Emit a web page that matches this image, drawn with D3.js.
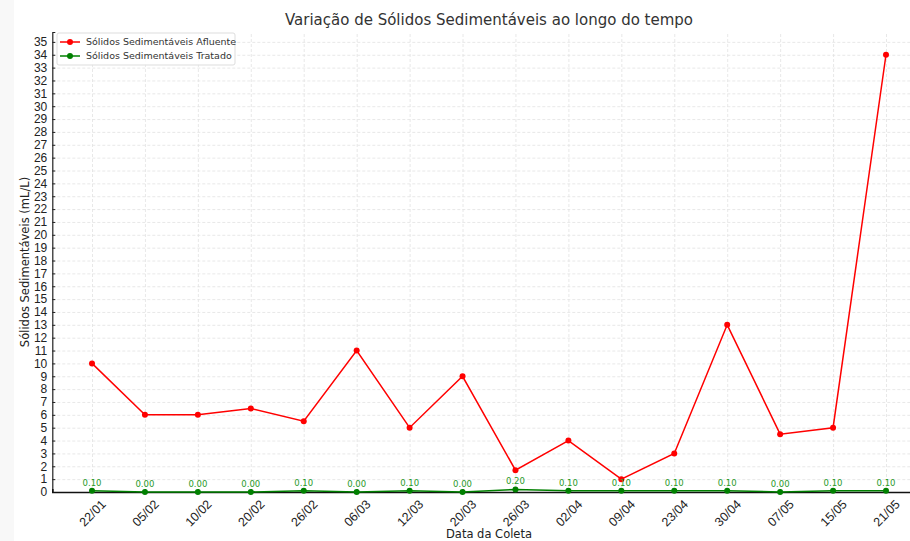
<!DOCTYPE html>
<html>
<head>
<meta charset="utf-8">
<script src="https://cdn.jsdelivr.net/npm/d3@7"></script>
<style>
  body { margin: 0; background: #fff; }
  svg { font-family: "DejaVu Sans", sans-serif; }
  .grid line { stroke: #e2e2e2; stroke-dasharray: 3,2; stroke-width: 0.8; }
  .grid path { display: none; }
</style>
</head>
<body>
<svg id="chart" width="910" height="541"></svg>
<script>
//Collection dates (x categories)
let dates = ['22/01', '05/02', '10/02', '20/02', '26/02', '06/03', '12/03', '20/03',
  '26/03', '02/04', '09/04', '23/04', '30/04', '07/05', '15/05', '21/05'];
//Influent settleable solids (mL/L)
let afluente = [10, 6, 6, 6.5, 5.5, 11, 5, 9, 1.7, 4, 1, 3, 13, 4.5, 5, 34];
//Treated settleable solids (mL/L)
let tratado = [0.1, 0, 0, 0, 0.1, 0, 0.1, 0, 0.2, 0.1, 0.1, 0.1, 0.1, 0, 0.1, 0.1];
//Y tick values
let yTicks = d3.range(0, 36);

let svg = d3.select('#chart');

//Faint grey strip on the left edge of the picture
svg.append('rect').attr('x', 0).attr('y', 0).attr('width', 14).attr('height', 541).attr('fill', '#f8f8f8');

let mLeft = 52.3, mRight = 925.7, mTop = 32, mBottom = 492;

let x = d3.scaleLinear().domain([-0.75, dates.length - 1 + 0.75]).range([mLeft, mRight]);
let y = d3.scaleLinear().domain([0, 35.77]).range([mBottom, mTop]);

//Grid lines
svg.append('g').attr('class', 'grid').attr('transform', 'translate(0,' + mBottom + ')')
  .call(d3.axisBottom(x).tickValues(d3.range(dates.length)).tickSize(-(mBottom - mTop)).tickFormat(''));
svg.append('g').attr('class', 'grid').attr('transform', 'translate(' + mLeft + ',0)')
  .call(d3.axisLeft(y).tickValues(yTicks.slice(1)).tickSize(-(mRight - mLeft)).tickFormat(''));

//Y axis
let yAxis = svg.append('g').attr('transform', 'translate(' + mLeft + ',0)')
  .call(d3.axisLeft(y).tickValues(yTicks).tickSize(-3).tickPadding(5).tickFormat(d3.format('d')));
yAxis.select('.domain').attr('stroke', '#222').attr('stroke-width', 1.2);
yAxis.selectAll('text').style('font-size', '12px').attr('fill', '#222');
yAxis.selectAll('.tick line').attr('stroke', '#222');

//X axis
let xAxis = svg.append('g').attr('transform', 'translate(0,' + mBottom + ')')
  .call(d3.axisBottom(x).tickValues(d3.range(dates.length)).tickSize(-3).tickFormat(i => dates[i]));
xAxis.select('.domain').attr('stroke', '#111').attr('stroke-width', 1.6);
xAxis.selectAll('.tick line').attr('stroke', '#222');
xAxis.selectAll('text')
  .style('font-size', '12.5px').attr('fill', '#222')
  .attr('text-anchor', 'middle')
  .attr('dy', '0.35em').attr('y', 0)
  .attr('transform', 'translate(0,21)rotate(-45)');

//Lines
let lineFn = data => d3.line().x((d, i) => x(i)).y(d => y(d))(data);

svg.append('path').attr('d', lineFn(afluente)).attr('fill', 'none').attr('stroke', 'red').attr('stroke-width', 1.5);
svg.append('g').selectAll('circle').data(afluente).join('circle')
  .attr('cx', (d, i) => x(i)).attr('cy', d => y(d)).attr('r', 3).attr('fill', 'red');

svg.append('path').attr('d', lineFn(tratado)).attr('fill', 'none').attr('stroke', 'green').attr('stroke-width', 1.5);
svg.append('g').selectAll('circle').data(tratado).join('circle')
  .attr('cx', (d, i) => x(i)).attr('cy', d => y(d)).attr('r', 3).attr('fill', 'green');

//Value labels above treated points
svg.append('g').selectAll('text').data(tratado).join('text')
  .attr('x', (d, i) => x(i)).attr('y', d => y(d) - 5)
  .attr('text-anchor', 'middle').style('font-size', '8.5px').attr('fill', '#2a9a2a')
  .text(d => d.toFixed(2));

//Title and axis labels
svg.append('text').attr('x', (mLeft + mRight) / 2).attr('y', 25).attr('text-anchor', 'middle')
  .style('font-size', '15px').attr('fill', '#333').text('Variação de Sólidos Sedimentáveis ao longo do tempo');
svg.append('text').attr('x', (mLeft + mRight) / 2).attr('y', 538).attr('text-anchor', 'middle')
  .style('font-size', '11.5px').attr('fill', '#222').text('Data da Coleta');
svg.append('text').attr('transform', 'translate(29,' + ((mTop + mBottom) / 2) + ')rotate(-90)').attr('text-anchor', 'middle')
  .style('font-size', '11.5px').attr('fill', '#222').text('Sólidos Sedimentáveis (mL/L)');

//Legend
let legend = svg.append('g').attr('transform', 'translate(57,33)');
legend.append('rect').attr('width', 178).attr('height', 32).attr('rx', 2)
  .attr('fill', 'white').attr('fill-opacity', 0.85).attr('stroke', '#ddd');
let legendItems = [{name: 'Sólidos Sedimentáveis Afluente', color: 'red'}, {name: 'Sólidos Sedimentáveis Tratado', color: 'green'}];
let items = legend.selectAll('g').data(legendItems).join('g')
  .attr('transform', (d, i) => 'translate(0,' + (9 + i * 14) + ')');
items.append('line').attr('x1', 3).attr('x2', 23).attr('stroke', d => d.color).attr('stroke-width', 1.5);
items.append('circle').attr('cx', 13).attr('r', 3).attr('fill', d => d.color);
items.append('text').attr('x', 29).attr('dy', '0.35em').style('font-size', '9.5px').attr('fill', '#333').text(d => d.name);
</script>
</body>
</html>
